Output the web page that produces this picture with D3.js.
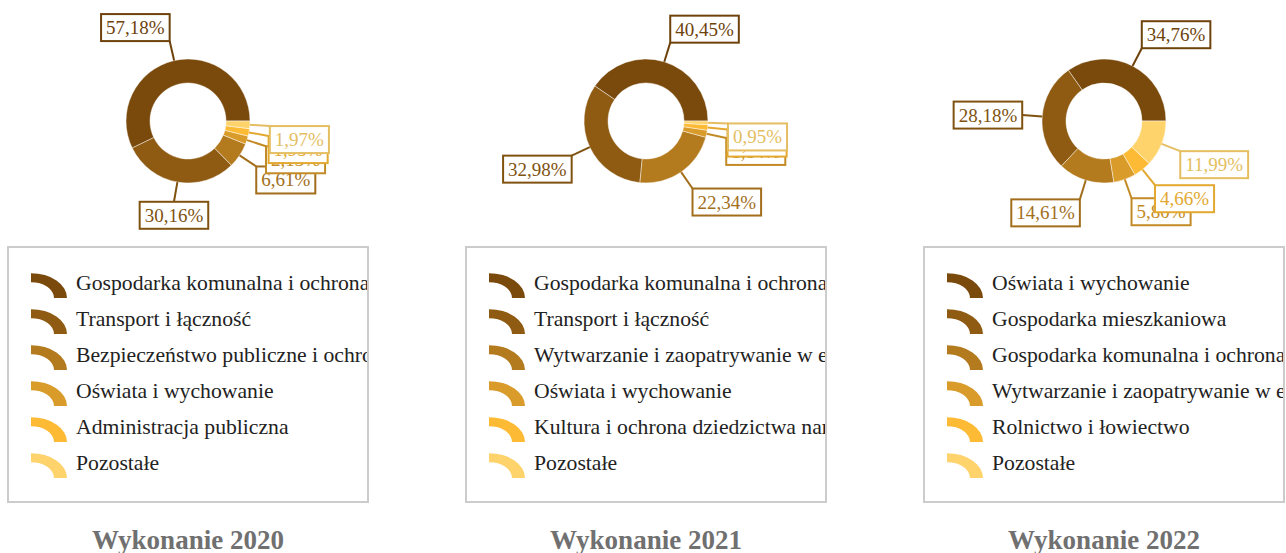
<!DOCTYPE html>
<html>
<head>
<meta charset="utf-8">
<script src="https://cdn.jsdelivr.net/npm/d3@7"></script>
<style>
  body { margin: 0; background: #fff; }
  svg { display: block; }
  text { font-family: "Liberation Serif", "Times New Roman", serif; }
</style>
</head>
<body>
<svg id="chart" width="1286" height="553"></svg>
<script>
// Shared palette, darkest for the largest group
const colors = ["#7a4a0c", "#8f5b12", "#b47a1e", "#d99b2a", "#fdbb35", "#fed36c"];

const titles = ["Wykonanie 2020", "Wykonanie 2021", "Wykonanie 2022"];

const categories2020 = [
  "Gospodarka komunalna i ochrona środowiska",
  "Transport i łączność",
  "Bezpieczeństwo publiczne i ochrona przeciwpożarowa",
  "Oświata i wychowanie",
  "Administracja publiczna",
  "Pozostałe"
];
const values2020 = [57.18, 30.16, 6.61, 2.13, 1.95, 1.97];

const categories2021 = [
  "Gospodarka komunalna i ochrona środowiska",
  "Transport i łączność",
  "Wytwarzanie i zaopatrywanie w energię elektryczną, gaz i wodę",
  "Oświata i wychowanie",
  "Kultura i ochrona dziedzictwa narodowego",
  "Pozostałe"
];
const values2021 = [40.45, 32.98, 22.34, 1.84, 1.44, 0.95];

const categories2022 = [
  "Oświata i wychowanie",
  "Gospodarka mieszkaniowa",
  "Gospodarka komunalna i ochrona środowiska",
  "Wytwarzanie i zaopatrywanie w energię elektryczną, gaz i wodę",
  "Rolnictwo i łowiectwo",
  "Pozostałe"
];
const values2022 = [34.76, 28.18, 14.61, 5.80, 4.66, 11.99];

const panels = [
  { title: titles[0], categories: categories2020, values: values2020 },
  { title: titles[1], categories: categories2021, values: values2021 },
  { title: titles[2], categories: categories2022, values: values2022 }
];

const svg = d3.select("#chart");

// Horizontal centre of each panel
const panelX = d3.scalePoint().domain(d3.range(panels.length)).range([188, 1104]);

const donutY = 121;
const outerR = 62, innerR = 38, labelR = 82;
const labelH = 27;

const pie = d3.pie()
  .sort(null)
  .value(d => d)
  .startAngle(Math.PI / 2)
  .endAngle(Math.PI / 2 - 2 * Math.PI);

const arc = d3.arc().innerRadius(innerR).outerRadius(outerR);
const fmt = v => d3.format(".2f")(v).replace(".", ",") + "%";

// Legend layout
const legend = { left: -180, top: 247, width: 360, height: 255 };
const rowY = d3.scaleLinear().domain([0, 1]).range([290, 326]);
const iconArc = d3.arc().innerRadius(23).outerRadius(36).startAngle(0).endAngle(Math.PI / 2);

panels.forEach((p, pi) => {
  const color = d3.scaleOrdinal().domain(p.categories).range(colors);
  const g = svg.append("g").attr("transform", `translate(${panelX(pi)},0)`);

  // Donut
  const donut = g.append("g").attr("transform", `translate(0,${donutY})`);
  const arcs = pie(p.values);

  donut.selectAll("path.slice")
    .data(arcs)
    .join("path")
    .attr("class", "slice")
    .attr("d", arc)
    .attr("fill", (d, i) => color(p.categories[i]))
    .attr("stroke", "rgba(255,255,255,0.45)")
    .attr("stroke-width", 1);

  // Callout labels: leader line plus boxed percentage
  arcs.forEach((d, i) => {
    const c = d3.color(color(p.categories[i])).darker(0.3).formatHex();
    const mid = (d.startAngle + d.endAngle) / 2;
    const ux = Math.sin(mid), uy = -Math.cos(mid);
    const x0 = outerR * ux, y0 = outerR * uy;
    const x1 = labelR * ux, y1 = labelR * uy;

    const lg = donut.append("g");
    lg.append("line")
      .attr("x1", x0).attr("y1", y0)
      .attr("x2", x1).attr("y2", y1)
      .attr("stroke", c).attr("stroke-width", 2);

    const box = lg.append("rect");
    const txt = lg.append("text")
      .attr("font-size", 19)
      .attr("fill", c)
      .attr("text-anchor", "middle")
      .text(fmt(d.data));
    const tw = txt.node().getComputedTextLength();
    const w = tw + 10;
    const fx = ux > 0.2 ? 0 : (ux < -0.2 ? 1 : 0.5);
    const fy = uy >= 0 ? 0 : (uy < -0.2 ? 1 : 0.5);
    const bx = x1 - fx * w, by = y1 - fy * labelH;
    box.attr("x", bx).attr("y", by)
      .attr("width", w).attr("height", labelH)
      .attr("fill", "#fff")
      .attr("stroke", c).attr("stroke-width", 2);
    txt.attr("x", bx + w / 2).attr("y", by + labelH / 2 + 6.5);
  });

  // Legend
  const clipId = `legend-clip-${pi}`;
  g.append("clipPath").attr("id", clipId)
    .append("rect")
    .attr("x", legend.left).attr("y", legend.top)
    .attr("width", legend.width - 1).attr("height", legend.height);

  g.append("rect")
    .attr("x", legend.left).attr("y", legend.top)
    .attr("width", legend.width).attr("height", legend.height)
    .attr("fill", "none")
    .attr("stroke", "#cccccc")
    .attr("stroke-width", 2);

  const items = g.append("g").attr("clip-path", `url(#${clipId})`)
    .selectAll("g.item")
    .data(p.categories)
    .join("g")
    .attr("class", "item")
    .attr("transform", (d, i) => `translate(0,${rowY(i)})`);

  items.append("path")
    .attr("d", iconArc)
    .attr("transform", "translate(-157,8) scale(1,0.69)")
    .attr("fill", d => color(d));

  items.append("text")
    .attr("x", -112)
    .attr("y", 0)
    .attr("font-size", 21.7)
    .attr("fill", "#222")
    .text(d => d);

  // Panel title
  g.append("text")
    .attr("x", 0)
    .attr("y", 549)
    .attr("text-anchor", "middle")
    .attr("font-size", 27)
    .attr("font-weight", "bold")
    .attr("fill", "#707070")
    .text(p.title);
});
</script>
</body>
</html>
